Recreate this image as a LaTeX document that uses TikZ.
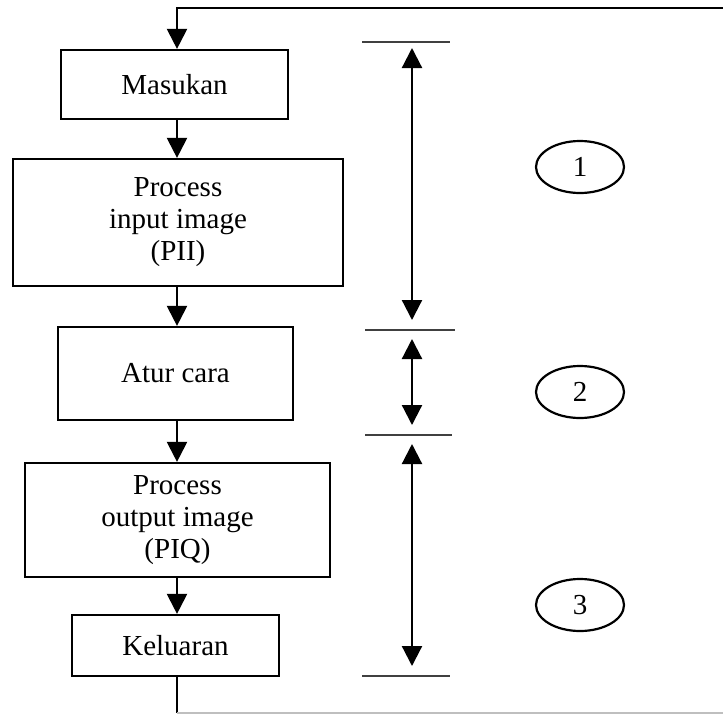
\documentclass[tikz,border=0pt]{standalone}
\usepackage{fontspec}
\setmainfont{Liberation Serif}
\usetikzlibrary{arrows.meta,shapes.geometric}
\tikzset{
  box/.style={draw, line width=2.2pt, rectangle, inner sep=0pt, align=center,
    font=\fontsize{29}{32}\selectfont},
  oval/.style={draw, line width=2.2pt, ellipse, inner sep=0pt, minimum width=88pt,
    minimum height=52pt, font=\fontsize{29}{32}\selectfont},
  ln/.style={line width=2.2pt},
  arr/.style={line width=2.2pt, -{Triangle[width=20pt,length=20pt]}},
  dim/.style={line width=2.2pt, {Triangle[width=20pt,length=20pt]}-{Triangle[width=20pt,length=20pt]}},
  tick/.style={line width=2.4pt, draw=black!75}
}
\begin{document}
\begin{tikzpicture}[x=1pt,y=-1pt]
\useasboundingbox (0,0) rectangle (723,713);
\clip (0,0) rectangle (723,713);
% boxes
\node[box, minimum width=227pt, minimum height=69pt] (mas) at (174.5,84.5) {Masukan};
\node[box, minimum width=330pt, minimum height=127pt] (pii) at (178,222.5) {Process\\input image\\(PII)};
\node[box, minimum width=235pt, minimum height=93pt] (atur) at (175.5,373.5) {Atur cara};
\node[box, minimum width=305pt, minimum height=114pt] (piq) at (177.5,520) {Process\\output image\\(PIQ)};
\node[box, minimum width=207pt, minimum height=61pt] (kel) at (175.5,645.5) {Keluaran};
% loop
\coordinate (tl) at (177,8);
\coordinate (tr) at (730,8);
\coordinate (bl) at (177,713);
\coordinate (br) at (730,713);
\draw[arr] (tr) -- (tl) -- (tl |- mas.north);
\draw[arr] (tl |- mas.south) -- (tl |- pii.north);
\draw[arr] (tl |- pii.south) -- (tl |- atur.north);
\draw[arr] (tl |- atur.south) -- (tl |- piq.north);
\draw[arr] (tl |- piq.south) -- (tl |- kel.north);
\draw[ln] (tl |- kel.south) -- (bl);
\draw[line width=1.5pt, draw=black!25] (bl) -- (br);
% dimension ticks
\coordinate (a1) at (362,42);  \coordinate (b1) at (450,42);
\coordinate (a2) at (365,330); \coordinate (b2) at (455,330);
\coordinate (a3) at (365,435); \coordinate (b3) at (452,435);
\coordinate (a4) at (362,676); \coordinate (b4) at (450,676);
\draw[tick] (a1) -- (b1);
\draw[tick] (a2) -- (b2);
\draw[tick] (a3) -- (b3);
\draw[tick] (a4) -- (b4);
\coordinate (m1) at (412,42);
\coordinate (m2) at (412,330);
\coordinate (m3) at (412,435);
\coordinate (m4) at (412,676);
\draw[dim, shorten <=6pt, shorten >=10pt] (m1) -- (m2);
\draw[dim, shorten <=9pt, shorten >=10pt] (m2) -- (m3);
\draw[dim, shorten <=9pt, shorten >=10pt] (m3) -- (m4);
% ovals
\node[oval] (o1) at (580,167) {1};
\node[oval] (o2) at (580,392) {2};
\node[oval] (o3) at (580,605) {3};
\end{tikzpicture}
\end{document}
